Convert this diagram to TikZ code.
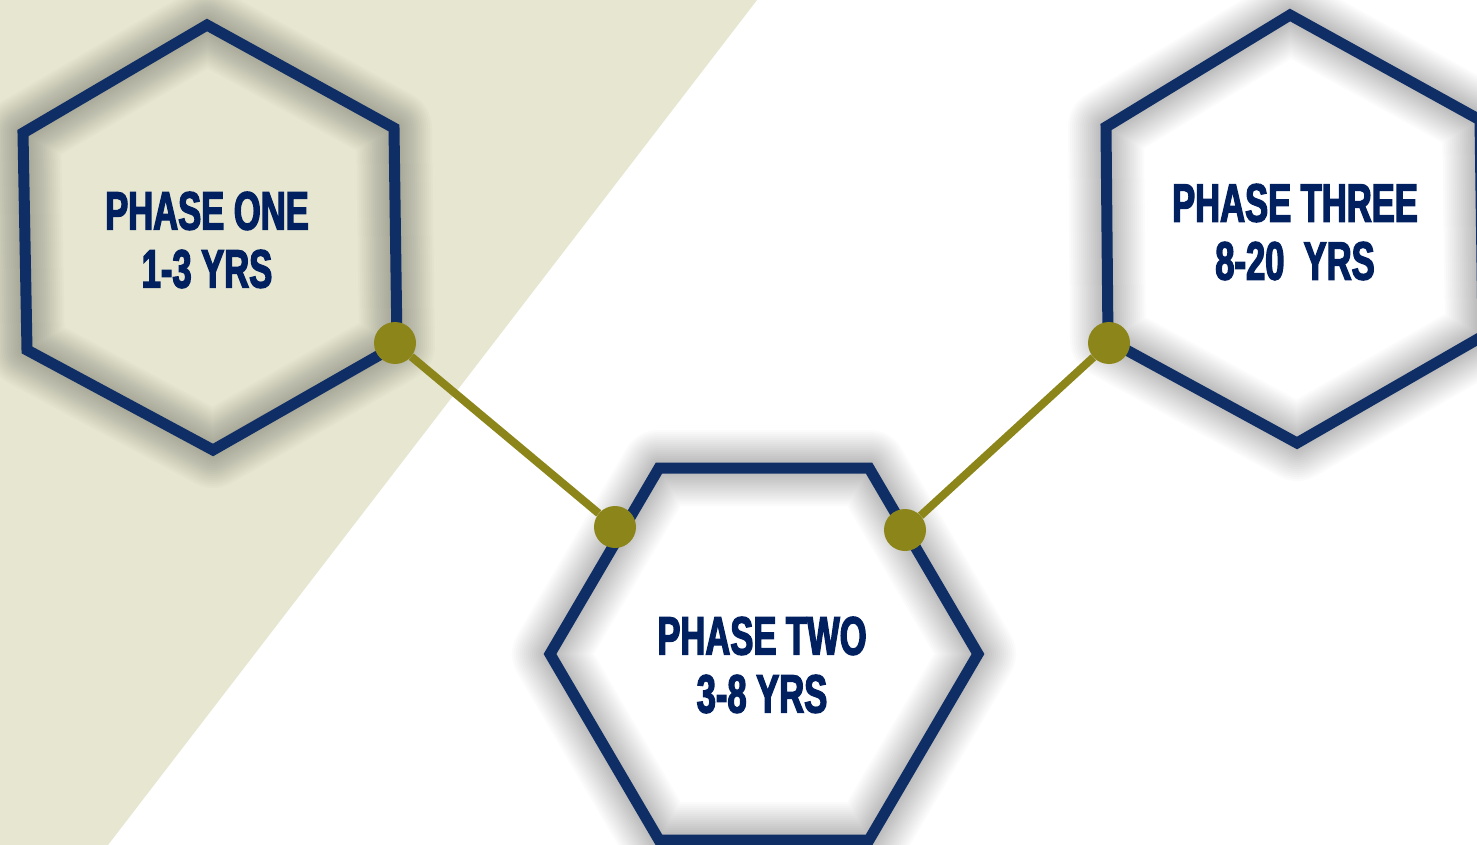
\documentclass[tikz,border=0pt]{standalone}
\usepackage{fontspec}
\newfontfamily\impactish[FakeStretch=0.64,FakeBold=2.5]{Liberation Sans Bold}
\definecolor{navy}{HTML}{0F2E66}
\definecolor{textnavy}{HTML}{002060}
\definecolor{olive}{HTML}{8C851A}
\definecolor{beige}{HTML}{E6E6D1}
\tikzset{
  hexline/.style={draw=navy, line width=11, line join=miter},
  dot/.style={circle, fill=olive, minimum size=42, inner sep=0},
  conn/.style={draw=olive, line width=8},
  phase/.style={text=textnavy, align=center, inner sep=0, font=\impactish\fontsize{54}{58}\selectfont},
}
\begin{document}
\begin{tikzpicture}[x=1pt,y=-1pt]
\useasboundingbox (0,0) rectangle (1477,845);
\clip (0,0) rectangle (1477,845);
\fill[white] (0,0) rectangle (1477,845);
\fill[beige] (0,0) -- (757,0) -- (108,845) -- (0,845) -- cycle;
% hexagon vertices
\coordinate (a1) at (207,25);  \coordinate (a2) at (394,128); \coordinate (a3) at (397,345);
\coordinate (a4) at (213,450); \coordinate (a5) at (27,350);  \coordinate (a6) at (23,133);
\coordinate (b1) at (659,468); \coordinate (b2) at (869,468); \coordinate (b3) at (978,654);
\coordinate (b4) at (869,840); \coordinate (b5) at (659,840); \coordinate (b6) at (550,654);
\coordinate (c1) at (1290,15);  \coordinate (c2) at (1480,120); \coordinate (c3) at (1483,336);
\coordinate (c4) at (1297,443); \coordinate (c5) at (1108,340); \coordinate (c6) at (1106,127);
% glow
\foreach \w in {76,72,...,12}{
  \draw[black, opacity=0.016, line width=\w, line join=round, shift={(2,5)}]
    (a1)--(a2)--(a3)--(a4)--(a5)--(a6)--cycle
    (b1)--(b2)--(b3)--(b4)--(b5)--(b6)--cycle
    (c1)--(c2)--(c3)--(c4)--(c5)--(c6)--cycle;
}
% hexagons
\draw[hexline] (a1)--(a2)--(a3)--(a4)--(a5)--(a6)--cycle;
\draw[hexline] (b1)--(b2)--(b3)--(b4)--(b5)--(b6)--cycle;
\draw[hexline] (c1)--(c2)--(c3)--(c4)--(c5)--(c6)--cycle;
% texts
\node[phase] (t1) at (207,240) {PHASE ONE\\1-3 YRS};
\node[phase] (t2) at (762,665) {PHASE TWO\\3-8 YRS};
\node[phase] (t3) at (1295,232) {PHASE THREE\\8-20\ \ YRS};
% dots and connectors
\node[dot] (d1) at (395,343) {};
\node[dot] (d2) at (615,527) {};
\node[dot] (d3) at (905,530) {};
\node[dot] (d4) at (1109,343) {};
\draw[conn] (d1) -- (d2);
\draw[conn] (d3) -- (d4);
\end{tikzpicture}
\end{document}
